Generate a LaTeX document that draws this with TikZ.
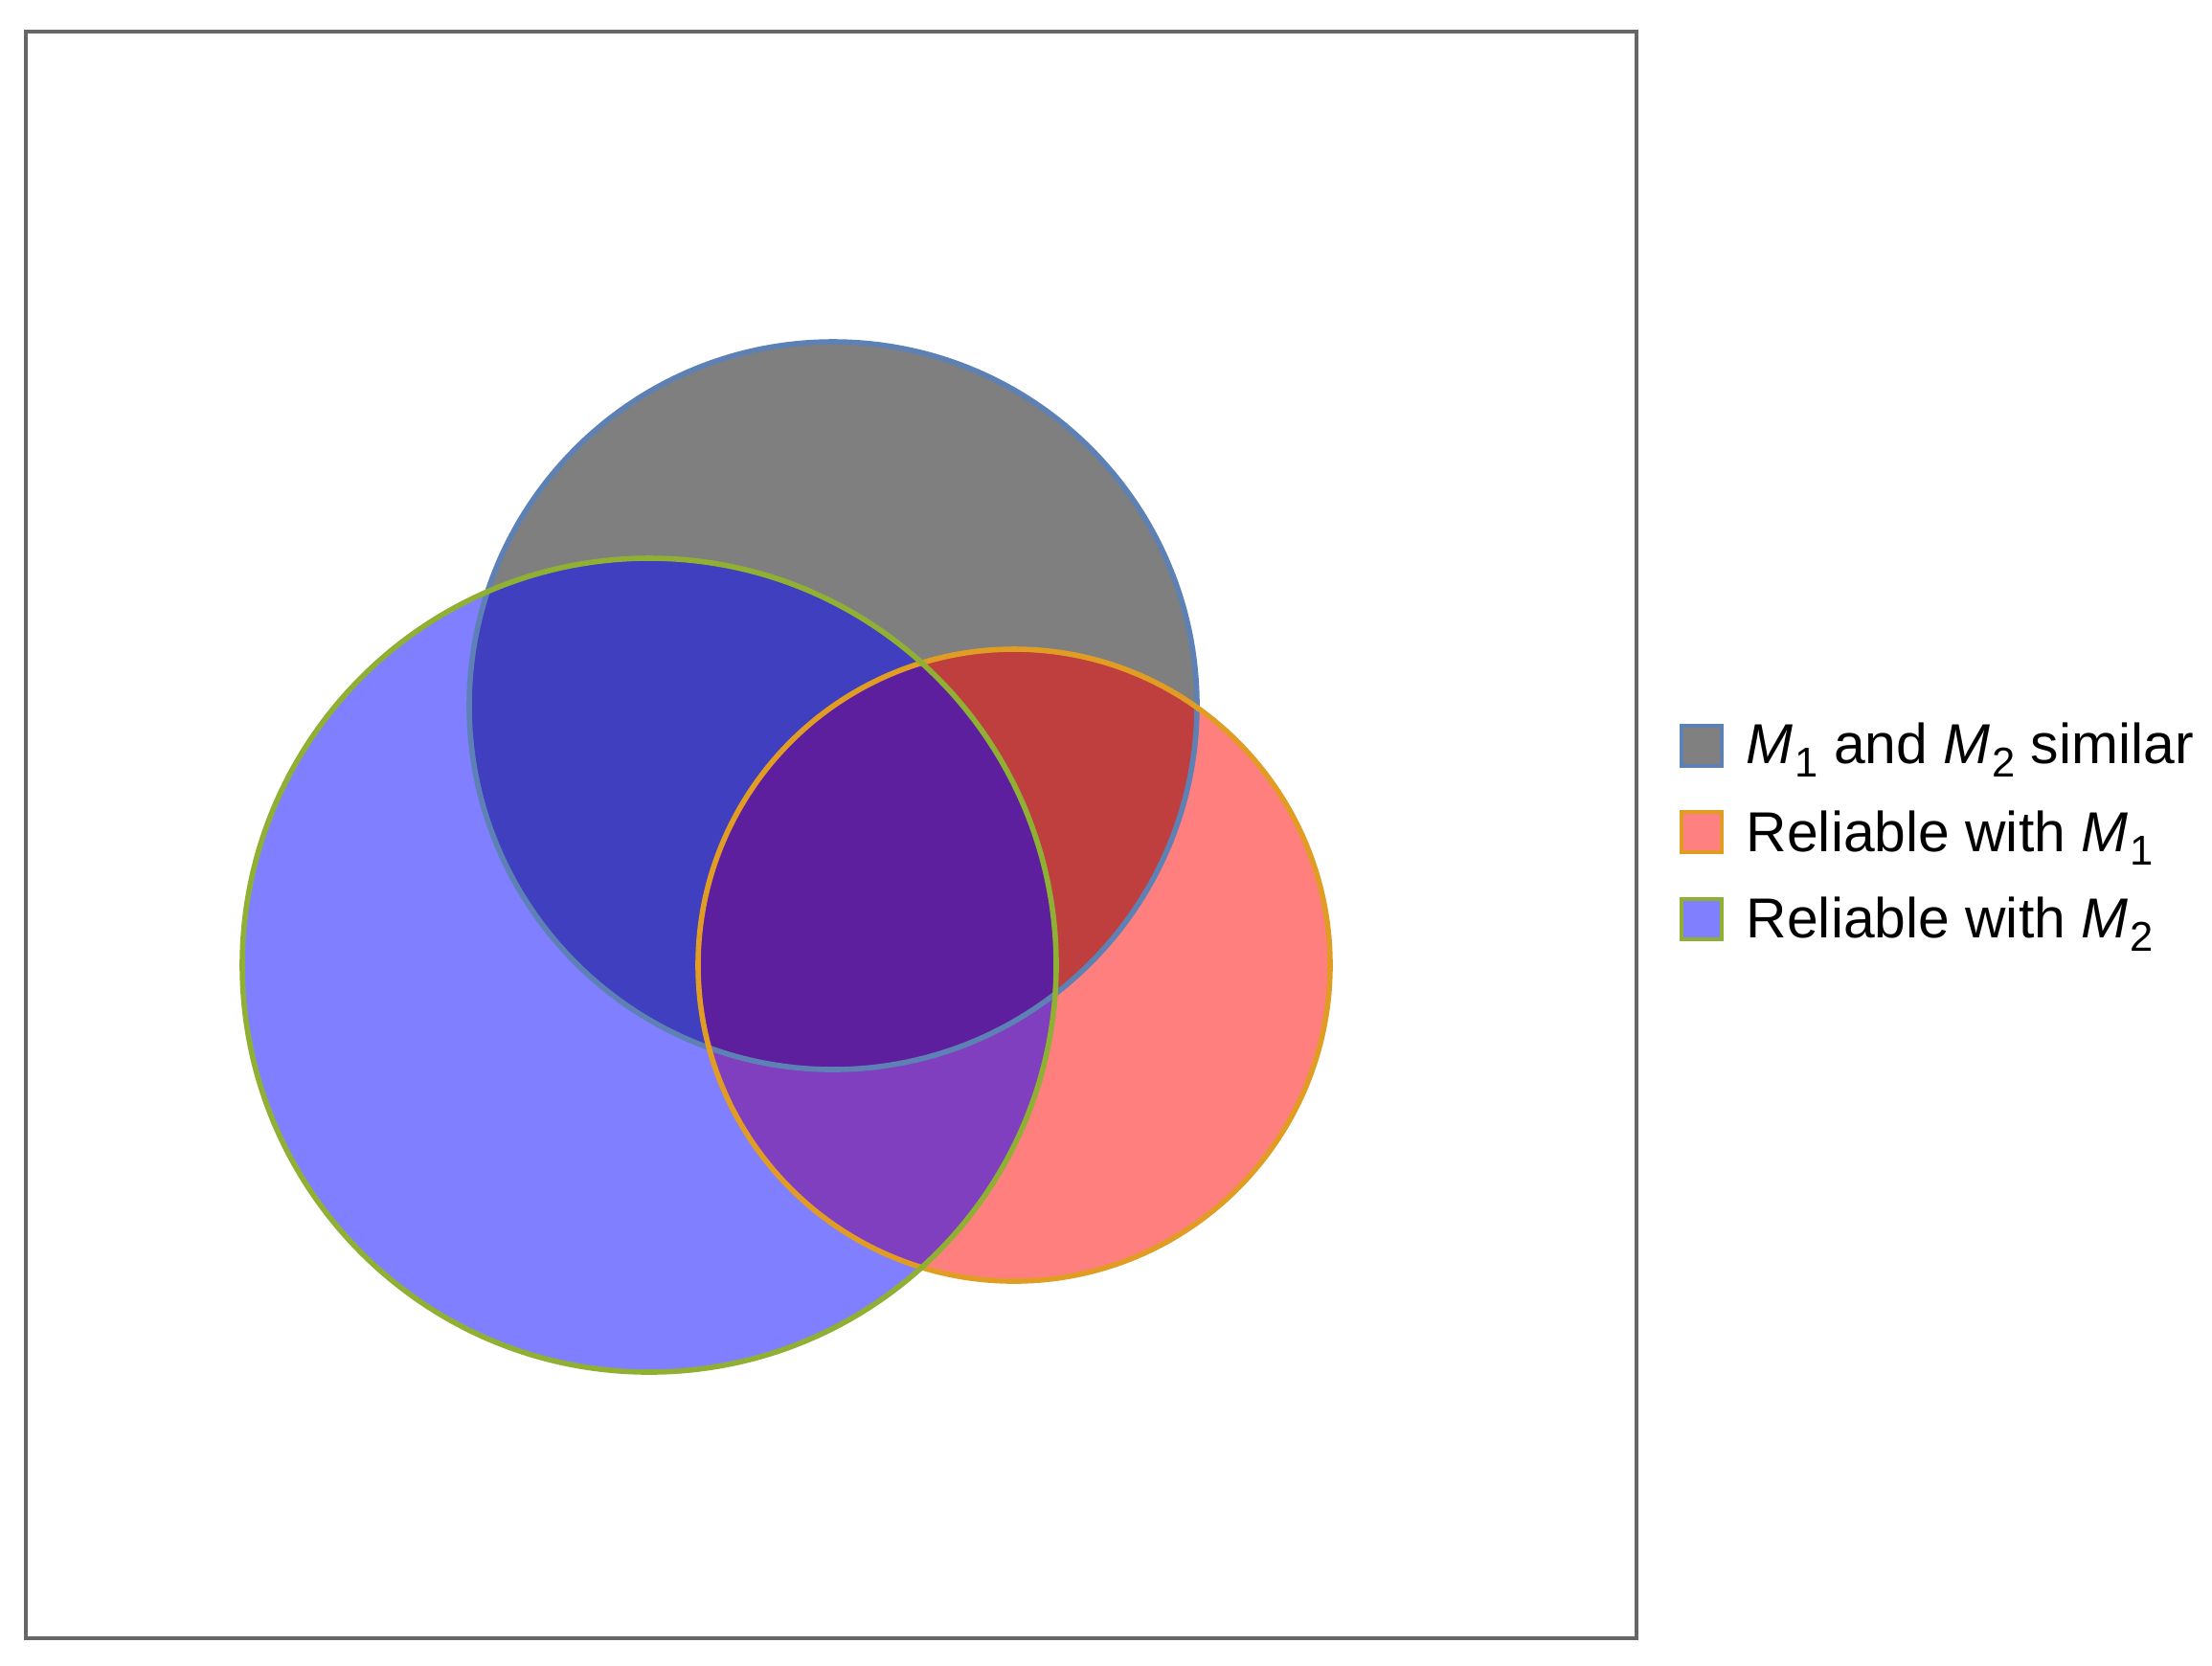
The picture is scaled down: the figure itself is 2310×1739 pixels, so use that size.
\documentclass[tikz,border=0pt]{standalone}
\usepackage{fontspec}
\setmainfont{Liberation Sans}
\usepackage{graphicx}
\definecolor{outA}{RGB}{94,129,181}
\definecolor{outB}{RGB}{225,156,36}
\definecolor{outC}{RGB}{143,176,50}
\definecolor{frameg}{RGB}{102,102,102}
\newcommand\Msub[1]{\textit{M}\kern0.03em\raisebox{-0.45ex}{\scalebox{0.74}{#1}}}
\tikzset{
  setfill/.style={fill opacity=0.5},
  setline/.style={line width=1.4pt},
  legbox/.style={draw, line width=1pt, minimum size=10.5pt, inner sep=0pt},
  legtext/.style={anchor=base west, inner sep=0pt, font=\fontsize{14.7}{17}\selectfont}
}
\begin{document}
\begin{tikzpicture}[x=0.25pt,y=-0.25pt]
\useasboundingbox (0,0) rectangle (2310,1739);
\draw[frameg, line width=0.8pt] (27,33) rectangle (1709,1711);
% fills
\fill[black, setfill] (870,737) circle[radius=95pt];
\fill[red, setfill] (1059,1008) circle[radius=82.5pt];
\fill[blue, setfill] (678,1008) circle[radius=106.25pt];
% outlines
\draw[outA, setline] (870,737) circle[radius=95pt];
\draw[outB, setline] (1059,1008) circle[radius=82.5pt];
\draw[outC, setline] (678,1008) circle[radius=106.25pt];
% legend
\node[legbox, draw=outA, fill=black!50] (b1) at (1777,779) {};
\node[legbox, draw=outB, fill=red!50] (b2) at (1777,869) {};
\node[legbox, draw=outC, fill=blue!50] (b3) at (1777,960) {};
\node[legtext] (t1) at (1823,797) {\Msub{1} and \Msub{2} similar};
\node[legtext] (t2) at (1823,889) {Reliable with \Msub{1}};
\node[legtext] (t3) at (1823,979) {Reliable with \Msub{2}};
\end{tikzpicture}
\end{document}
